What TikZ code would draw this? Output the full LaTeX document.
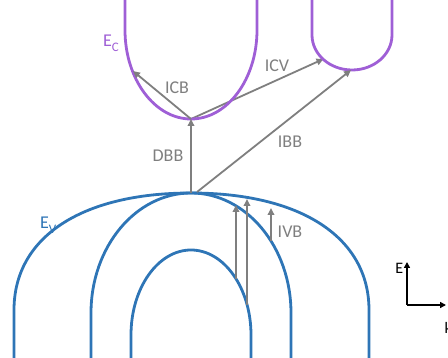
\documentclass[tikz,border=0pt]{standalone}
\usepackage{fontspec}
\setmainfont{Carlito}
\usetikzlibrary{arrows.meta}
\definecolor{cbcol}{HTML}{9F5FD6}
\definecolor{vbcol}{HTML}{2E75B6}
\definecolor{arcol}{HTML}{7F7F7F}
\begin{document}
\begin{tikzpicture}[x=1pt,y=-1pt,
  cband/.style={draw=cbcol,line width=2.8pt},
  vband/.style={draw=vbcol,line width=2.8pt},
  trans/.style={draw=arcol,line width=1.8pt,-{Triangle[length=7pt,width=6.5pt]}},
  axisarrow/.style={draw=black,line width=1.8pt,-{Triangle[length=6pt,width=6pt]}},
  lab/.style={text=arcol,font=\fontsize{18}{20}\selectfont,inner sep=0pt},
  blab/.style={font=\fontsize{18}{20}\selectfont,inner sep=0pt}]
\useasboundingbox (0,0) rectangle (448,358);
% coordinates
\coordinate (cbmin) at (191,119);
\coordinate (cbtwo) at (323.5,59);
\coordinate (cbtwomin) at (351,70);
\coordinate (cbleft) at (133,71);
\coordinate (vbmax) at (191,193);
\coordinate (vbmaxr) at (197,192);
\coordinate (ivaS) at (236,279);
\coordinate (ivaE) at (236,205);
\coordinate (ivbS) at (247,305);
\coordinate (ivbE) at (247,199);
\coordinate (ivcS) at (271,241);
\coordinate (ivcE) at (271,208);
\coordinate (org) at (407,305);
\coordinate (etip) at (407,262);
\coordinate (ktip) at (446,305);
% ICV under the band
\draw[trans] (cbmin) -- (cbtwo);
% conduction bands
\draw[cband] (125,-5) -- (125,30) .. controls (125,79.1) and (154.6,119) .. (191,119)
  .. controls (227.4,119) and (257,79.1) .. (257,30) -- (257,-5);
\draw[cband] (312,-5) -- (312,35) .. controls (312,54.3) and (329.9,70) .. (352,70)
  .. controls (374.1,70) and (392,54.3) .. (392,35) -- (392,-5);
% valence bands
\draw[vband] (14,365) -- (14,310) .. controls (14,237.5) and (81,193) .. (191,193)
  .. controls (301,193) and (369,237.5) .. (369,310) -- (369,365);
\draw[vband] (91,365) -- (91,313) .. controls (91,246.8) and (135.8,193) .. (191,193)
  .. controls (246.2,193) and (291,246.8) .. (291,313) -- (291,365);
\draw[vband] (131,365) -- (131,335) .. controls (131,288.1) and (157.9,250) .. (191,250)
  .. controls (224.1,250) and (251,288.1) .. (251,335) -- (251,365);
% transitions
\draw[trans] (cbmin) -- (cbleft);
\draw[trans] (vbmax) -- (cbmin);
\draw[trans] (vbmaxr) -- (cbtwomin);
\draw[trans] (ivaS) -- (ivaE);
\draw[trans] (ivbS) -- (ivbE);
\draw[trans] (ivcS) -- (ivcE);
% labels
\node[lab] (icb) at (177,88) {ICB};
\node[lab] (icv) at (277,66) {ICV};
\node[lab] (dbb) at (168,156) {DBB};
\node[lab] (ibb) at (290,142) {IBB};
\node[lab] (ivb) at (290,232) {IVB};
\node[lab,text=cbcol,anchor=base west] (ec) at (103,47) {E\raisebox{-5pt}{\fontsize{13}{13}\selectfont C}};
\node[lab,text=vbcol,anchor=base west] (ev) at (40,229) {E\raisebox{-5pt}{\fontsize{13}{13}\selectfont V}};
% axes
\draw[axisarrow] (org) -- (etip);
\draw[axisarrow] (org) -- (ktip);
\node[blab,font=\fontsize{16}{18}\selectfont,anchor=base east] (elab) at (403.5,274) {E};
\node[blab,font=\fontsize{16}{18}\selectfont,anchor=base west] (klab) at (444.5,334) {k};
\end{tikzpicture}
\end{document}
